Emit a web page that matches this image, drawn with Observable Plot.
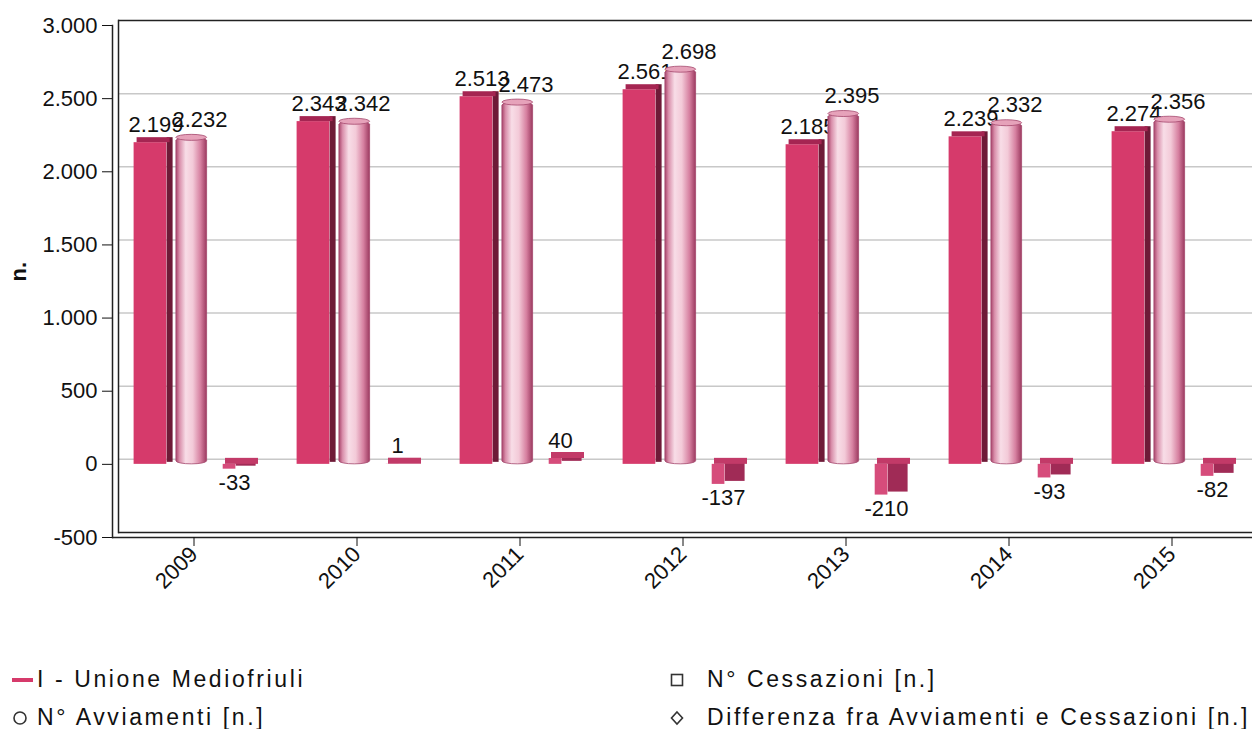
<!DOCTYPE html>
<html>
<head>
<meta charset="utf-8">
<script src="https://cdn.jsdelivr.net/npm/d3@7"></script>
<script src="https://cdn.jsdelivr.net/npm/@observablehq/plot@0.6"></script>
<style>
  html, body { margin: 0; padding: 0; background: #fff; }
  #wrap { position: relative; width: 1252px; height: 729px; overflow: hidden; font-family: "Liberation Sans", Arial, sans-serif; }
  .leg { position: absolute; font-size: 23px; letter-spacing: 2.6px; color: #111; white-space: nowrap; line-height: 1; }
  .mk { position: absolute; }
</style>
</head>
<body>
<div id="wrap">
  <div id="chart"></div>
  <svg class="mk" style="left:0;top:660px" width="1252" height="69">
    <line x1="12" x2="33" y1="20" y2="20" stroke="#d63a6b" stroke-width="4"/>
    <circle cx="20" cy="58" r="6" fill="none" stroke="#333" stroke-width="1.6"/>
    <rect x="671.5" y="14.5" width="11" height="11" fill="none" stroke="#333" stroke-width="1.6"/>
    <path d="M677,52 L682.5,58 L677,64 L671.5,58 Z" fill="none" stroke="#333" stroke-width="1.6"/>
  </svg>
  <div class="leg" style="left:37px;top:668px">I - Unione Mediofriuli</div>
  <div class="leg" style="left:37px;top:706px">N° Avviamenti [n.]</div>
  <div class="leg" style="left:707px;top:668px">N° Cessazioni [n.]</div>
  <div class="leg" style="left:707px;top:706px">Differenza fra Avviamenti e Cessazioni [n.]</div>
</div>
<script>
const years = ["2009", "2010", "2011", "2012", "2013", "2014", "2015"];
const avviamenti = [2199, 2343, 2513, 2561, 2185, 2239, 2274];
const cessazioni = [2232, 2342, 2473, 2698, 2395, 2332, 2356];
const differenza = [-33, 1, 40, -137, -210, -93, -82];
const yTicks = [-500, 0, 500, 1000, 1500, 2000, 2500, 3000];

const data = years.map((y, i) => ({year: y, avv: avviamenti[i], ces: cessazioni[i], diff: differenza[i]}));
const it = d3.formatLocale({decimal: ",", thousands: ".", grouping: [3], currency: ["€", ""], minus: "-"});
const fmt = it.format(",d");

const BW = 163.3;
const svg = Plot.plot({
  width: 1252,
  height: 645,
  marginLeft: 112,
  marginRight: 0,
  marginTop: 25,
  marginBottom: 108,
  style: {fontFamily: "Liberation Sans, Arial, sans-serif", fontSize: "22px", background: "white", color: "#111"},
  x: {type: "band", domain: years, range: [111.1, 1254.2], padding: 0},
  y: {domain: [-500, 3000]},
  marks: [
    Plot.ruleY(yTicks.slice(1, -1), {dx: 6, dy: -5, stroke: "#c8c8c8", strokeWidth: 1.5}),
    Plot.ruleY([3000], {dx: 6, dy: -5, stroke: "#222", strokeWidth: 1.5}),
    Plot.ruleY([-500], {dx: 6, dy: -5, stroke: "#222", strokeWidth: 1.5}),
    Plot.ruleY([-500], {stroke: "#222", strokeWidth: 1.5}),
    Plot.frame({anchor: "left", dx: 6, dy: -5, stroke: "#222", strokeWidth: 1.5}),
    Plot.frame({anchor: "left", stroke: "#222", strokeWidth: 1.5}),
    Plot.axisY(yTicks, {tickSize: 10, tickPadding: 5, tickFormat: fmt, label: null, fontSize: 22}),
    Plot.axisX({tickRotate: -45, tickSize: 9, tickPadding: 4, label: null, fontSize: 22}),
    Plot.text(["n."], {frameAnchor: "left", dx: -94, rotate: -90, fontWeight: "bold", fontSize: 22}),
    // Avviamenti: 3D box
    Plot.barY(data, {x: "year", y: "avv", insetLeft: 54.6, insetRight: 102.4, dy: -5, insetBottom: -3, fill: "#6e1a37"}),
    Plot.barY(data, {x: "year", y: "avv", insetLeft: 21.6, insetRight: 108.7, fill: "#d63a6b"}),
    Plot.barY(data, {x: "year", y1: "avv", y2: "avv", insetTop: -5, insetLeft: 24.6, insetRight: 105.4, fill: "#a52552"}),
    Plot.text(data, {x: "year", y: "avv", text: d => fmt(d.avv), dx: -38, dy: -18, fontSize: 22, fill: "#111"}),
    // Cessazioni: cylinder
    Plot.barY(data, {x: "year", y: "ces", insetLeft: 63.9, insetRight: 68.4, rx: 15.5, ry: 3, fill: "url(#cylGrad)", stroke: "#a5486d", strokeWidth: 0.8}),
    Plot.barY(data, {x: "year", y1: "ces", y2: "ces", insetTop: -3, insetBottom: -3, insetLeft: 63.9, insetRight: 68.4, rx: 15.5, ry: 3, fill: "#e6a2ba", stroke: "#a5486d", strokeWidth: 0.8}),
    Plot.text(data, {x: "year", y: "ces", text: d => fmt(d.ces), dx: 6, dy: -18, fontSize: 22, fill: "#111"}),
    // Differenza: small 3D box
    Plot.barY(data, {x: "year", y: "diff", insetLeft: 123.7, insetRight: 19.4, dy: -3, fill: "#a02b56"}),
    Plot.barY(data, {x: "year", y: "diff", insetLeft: 110.7, insetRight: 39.6, fill: "#d64c7b"}),
    Plot.barY(data, {x: "year", y1: d => Math.max(d.diff, 0), y2: d => Math.max(d.diff, 0), insetTop: -6, insetLeft: 113, insetRight: 17, fill: "#c23a68"}),
    Plot.text(data, {filter: d => d.diff >= 0, x: "year", y: "diff", text: d => fmt(d.diff), dx: 40.5, dy: -18, fontSize: 22, fill: "#111"}),
    Plot.text(data, {filter: d => d.diff < 0, x: "year", y: "diff", text: d => fmt(d.diff), dx: 40.5, dy: 13.5, fontSize: 22, fill: "#111"})
  ]
});

const defs = d3.select(svg).insert("defs", ":first-child");
const lg = defs.append("linearGradient").attr("id", "cylGrad").attr("x1", 0).attr("x2", 1).attr("y1", 0).attr("y2", 0);
[[0, "#a9456b"], [0.12, "#d98fab"], [0.32, "#f8dde7"], [0.55, "#f3cad8"], [0.8, "#d680a0"], [1, "#9c3a60"]]
  .forEach(([o, c]) => lg.append("stop").attr("offset", o).attr("stop-color", c));

document.getElementById("chart").appendChild(svg);
</script>
</body>
</html>
